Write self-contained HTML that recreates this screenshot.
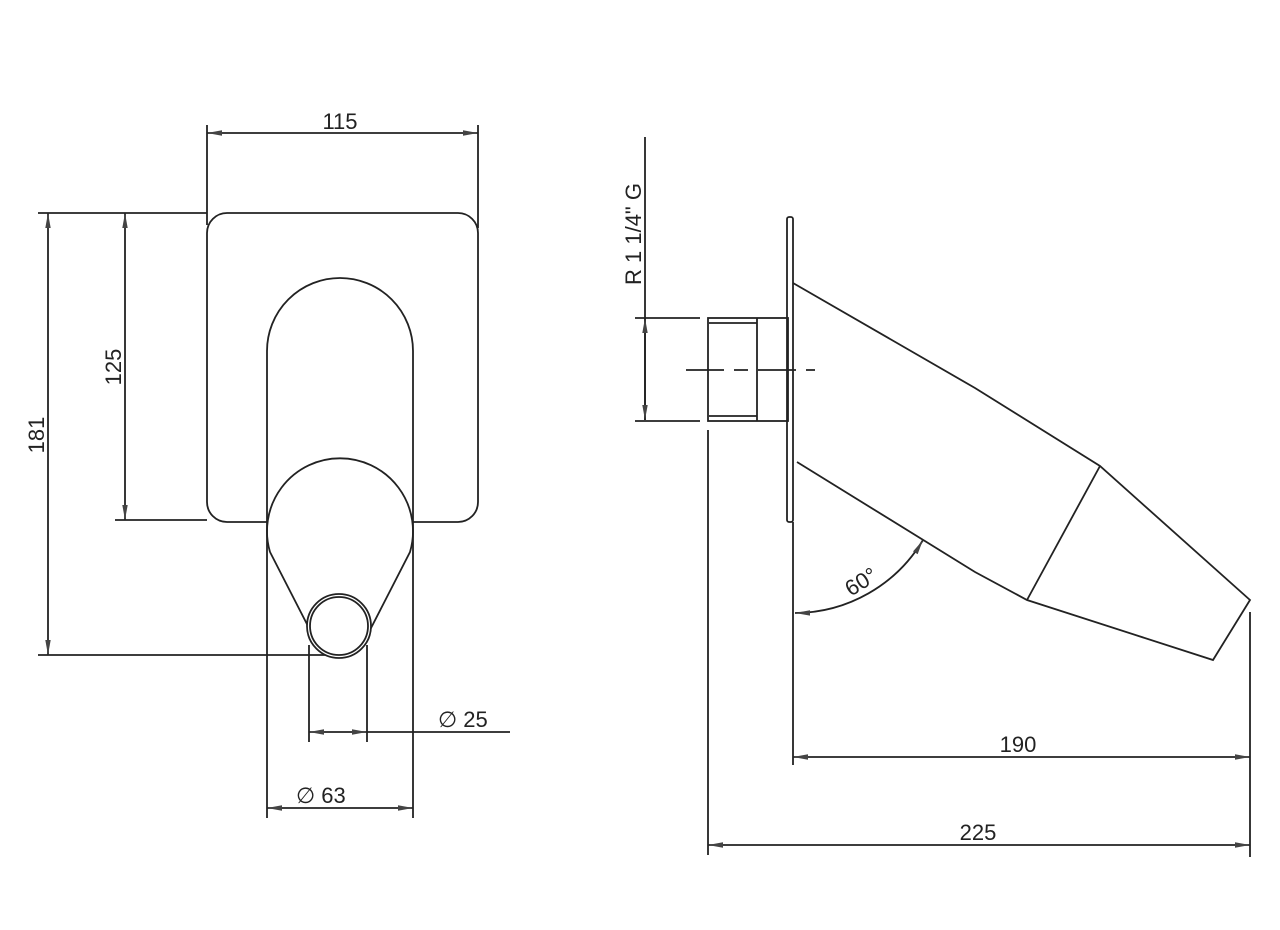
<!DOCTYPE html>
<html><head><meta charset="utf-8"><style>
html,body{margin:0;padding:0;background:#fff;}
svg{display:block;}
text{font-family:"Liberation Sans",sans-serif;font-size:22px;fill:#222;}
</style></head><body>
<svg width="1280" height="930" viewBox="0 0 1280 930" xmlns="http://www.w3.org/2000/svg">
<defs>
<marker id="a" viewBox="0 0 15 7" refX="15" refY="3.5" markerWidth="15" markerHeight="7" markerUnits="userSpaceOnUse" orient="auto-start-reverse">
<path d="M0,0.8 L15,3.5 L0,6.2 Z" fill="#444"/>
</marker>
</defs>
<g stroke="#222" stroke-width="1.8" fill="none">
<!-- LEFT VIEW -->
<line x1="207" y1="125" x2="207" y2="225"/>
<line x1="478" y1="125" x2="478" y2="228"/>
<line x1="207" y1="133" x2="478" y2="133" marker-start="url(#a)" marker-end="url(#a)"/>
<path d="M207,233 A20,20 0 0 1 227,213 L458,213 A20,20 0 0 1 478,233 L478,502 A20,20 0 0 1 458,522 L413,522"/>
<path d="M267,522 L227,522 A20,20 0 0 1 207,502 L207,233"/>
<line x1="38" y1="213" x2="207" y2="213"/>
<line x1="115" y1="520" x2="207" y2="520"/>
<line x1="38" y1="655" x2="335" y2="655"/>
<line x1="48" y1="213" x2="48" y2="655" marker-start="url(#a)" marker-end="url(#a)"/>
<line x1="125" y1="213" x2="125" y2="520" marker-start="url(#a)" marker-end="url(#a)"/>
<!-- oval -->
<path d="M267,818 L267,351 A73,73 0 0 1 413,351 L413,818"/>
<!-- teardrop -->
<path d="M270,552 A73,73 0 1 1 410,552 L370,630 M270,552 L311,632"/>
<circle cx="339" cy="626" r="32" fill="#fff"/>
<circle cx="339" cy="626" r="29"/>
<line x1="309" y1="645" x2="309" y2="742"/>
<line x1="367" y1="645" x2="367" y2="742"/>
<line x1="309" y1="732" x2="367" y2="732" marker-start="url(#a)" marker-end="url(#a)"/>
<line x1="367" y1="732" x2="510" y2="732"/>
<line x1="267" y1="808" x2="413" y2="808" marker-start="url(#a)" marker-end="url(#a)"/>
<!-- RIGHT VIEW -->
<line x1="645" y1="137" x2="645" y2="420"/>
<line x1="645" y1="318" x2="645" y2="420" marker-start="url(#a)" marker-end="url(#a)"/>
<line x1="635" y1="318" x2="700" y2="318"/>
<line x1="635" y1="421" x2="700" y2="421"/>
<rect x="787" y="217" width="6" height="305" rx="2"/>
<rect x="708" y="318" width="80" height="103"/>
<line x1="757" y1="318" x2="757" y2="421"/>
<line x1="709" y1="323" x2="757" y2="323"/>
<line x1="709" y1="416" x2="757" y2="416"/>
<line x1="686" y1="370" x2="815" y2="370" stroke-dasharray="38,10,14,10"/>
<line x1="708" y1="430" x2="708" y2="855"/>
<line x1="793" y1="522" x2="793" y2="765"/>
<line x1="1250" y1="612" x2="1250" y2="857"/>
<!-- spout -->
<path d="M793,283 L975,388 L1100,466 L1250,600 L1213,660 L1027,600 L975,572 L797,462"/>
<line x1="1100" y1="466" x2="1027" y2="600"/>
<!-- 60 arc -->
<path d="M795,613 A150,150 0 0 0 923,540" marker-start="url(#a)" marker-end="url(#a)"/>
<line x1="793" y1="757" x2="1250" y2="757" marker-start="url(#a)" marker-end="url(#a)"/>
<line x1="708" y1="845" x2="1250" y2="845" marker-start="url(#a)" marker-end="url(#a)"/>
</g>
<text x="340" y="129" text-anchor="middle">115</text>
<text transform="translate(44,435) rotate(-90)" text-anchor="middle">181</text>
<text transform="translate(121,367) rotate(-90)" text-anchor="middle">125</text>
<text x="438" y="727">∅ 25</text>
<text x="296" y="803">∅ 63</text>
<text transform="translate(641,285) rotate(-90)">R 1 1/4" G</text>
<text transform="translate(865,588) rotate(-32)" text-anchor="middle">60°</text>
<text x="1018" y="752" text-anchor="middle">190</text>
<text x="978" y="840" text-anchor="middle">225</text>
</svg>
</body></html>
